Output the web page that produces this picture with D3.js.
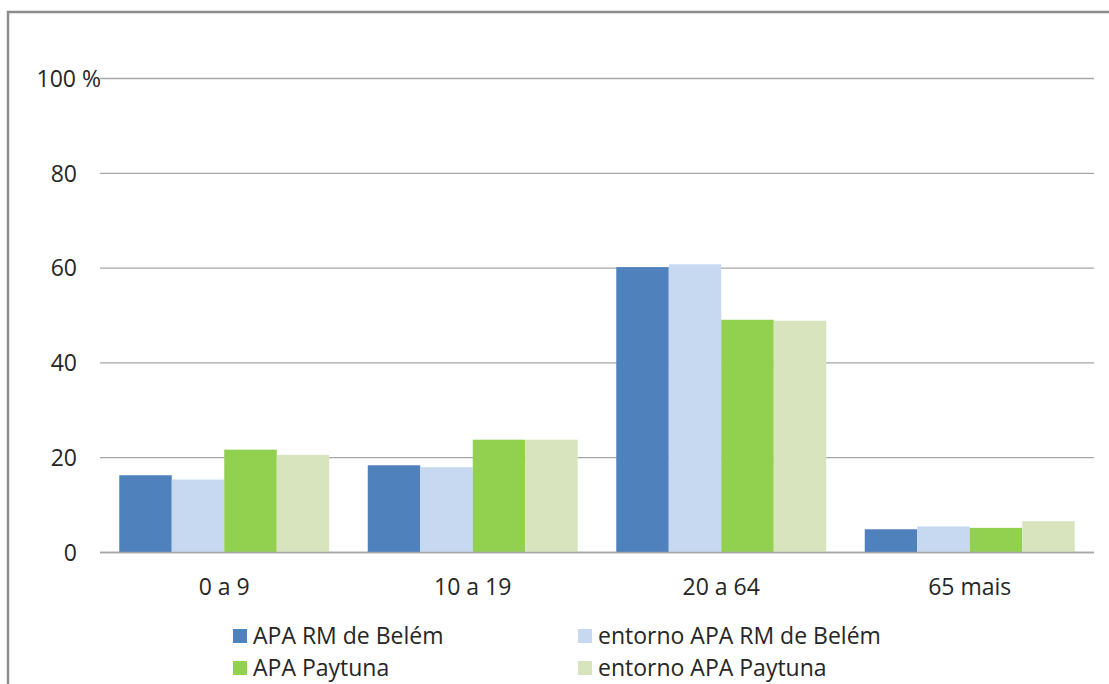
<!DOCTYPE html>
<html><head><meta charset="utf-8">
<script src="https://cdn.jsdelivr.net/npm/d3@7"></script>
<style>
body{margin:0;background:#fff;}
text{font-family:"Open Sans",Lato,sans-serif;fill:#262626;}
</style></head>
<body><svg id="c" width="1109" height="684"></svg>
<script>
const categories = ["0 a 9", "10 a 19", "20 a 64", "65 mais"];
const seriesNames = ["APA RM de Belém", "entorno APA RM de Belém", "APA Paytuna", "entorno APA Paytuna"];
const seriesColors = ["#4f81bd", "#c6d9f1", "#92d050", "#d7e4bd"];
const apaBelem = [16.3, 18.4, 60.2, 4.9];
const entornoBelem = [15.4, 18.0, 60.8, 5.5];
const apaPaytuna = [21.7, 23.8, 49.1, 5.2];
const entornoPaytuna = [20.6, 23.8, 48.9, 6.6];
const tickValues = [0, 20, 40, 60, 80, 100];
const tickLabels = ["0", "20", "40", "60", "80", "100 %"];

const series = [apaBelem, entornoBelem, apaPaytuna, entornoPaytuna];
const svg = d3.select("#c");
const FS = 23;

// frame
svg.append("path").attr("d","M8,684 L8,12 L1109,12").attr("fill","none").attr("stroke","#8c8c8c").attr("stroke-width",2.5);

const x0 = 100, x1 = 1094, yTop = 78.5, yBot = 552.5;
const x = d3.scaleBand().domain(categories).range([x0, x1]).paddingInner(0.155).paddingOuter(0.0775);
const xs = d3.scaleBand().domain(d3.range(4)).range([0, x.bandwidth()]);
const y = d3.scaleLinear().domain([0, 100]).range([yBot, yTop]);

// gridlines
svg.append("g").selectAll("line").data(tickValues).join("line")
  .attr("x1", x0).attr("x2", x1).attr("y1", d=>y(d)).attr("y2", d=>y(d))
  .attr("stroke", "#a6a6a6").attr("stroke-width", 1.3);

// y labels
svg.append("g").selectAll("text").data(tickValues).join("text")
  .attr("x", (d,i)=> d===100 ? 101 : 77)
  .attr("y", d=>y(d)).attr("dy","0.36em").attr("text-anchor","end")
  .attr("font-size", FS).text((d,i)=>tickLabels[i]);

// bars
const g = svg.append("g");
series.forEach((vals, si) => {
  g.selectAll(null).data(categories).join("rect")
    .attr("x", (c)=> x(c) + xs(si))
    .attr("width", xs.bandwidth())
    .attr("y", (c,i)=> y(vals[i]))
    .attr("height", (c,i)=> y(0) - y(vals[i]))
    .attr("fill", seriesColors[si]);
});
// zero line over bars
svg.append("line").attr("x1",x0).attr("x2",x1).attr("y1",y(0)).attr("y2",y(0)).attr("stroke","#a6a6a6").attr("stroke-width",1.3);

// x labels
svg.append("g").selectAll("text").data(categories).join("text")
  .attr("x", c=> x(c)+x.bandwidth()/2).attr("y", 595)
  .attr("text-anchor","middle").attr("font-size", FS).text(c=>c);

// legend
const legPos = [[233,644],[578,644],[233,676],[578,676]];
const leg = svg.append("g");
seriesNames.forEach((n,i)=>{
  const [lx,ly] = legPos[i];
  leg.append("rect").attr("x",lx).attr("y",ly-15).attr("width",14).attr("height",14).attr("fill",seriesColors[i]);
  leg.append("text").attr("x",lx+20).attr("y",ly).attr("font-size",FS).text(n);
});
</script></body></html>
